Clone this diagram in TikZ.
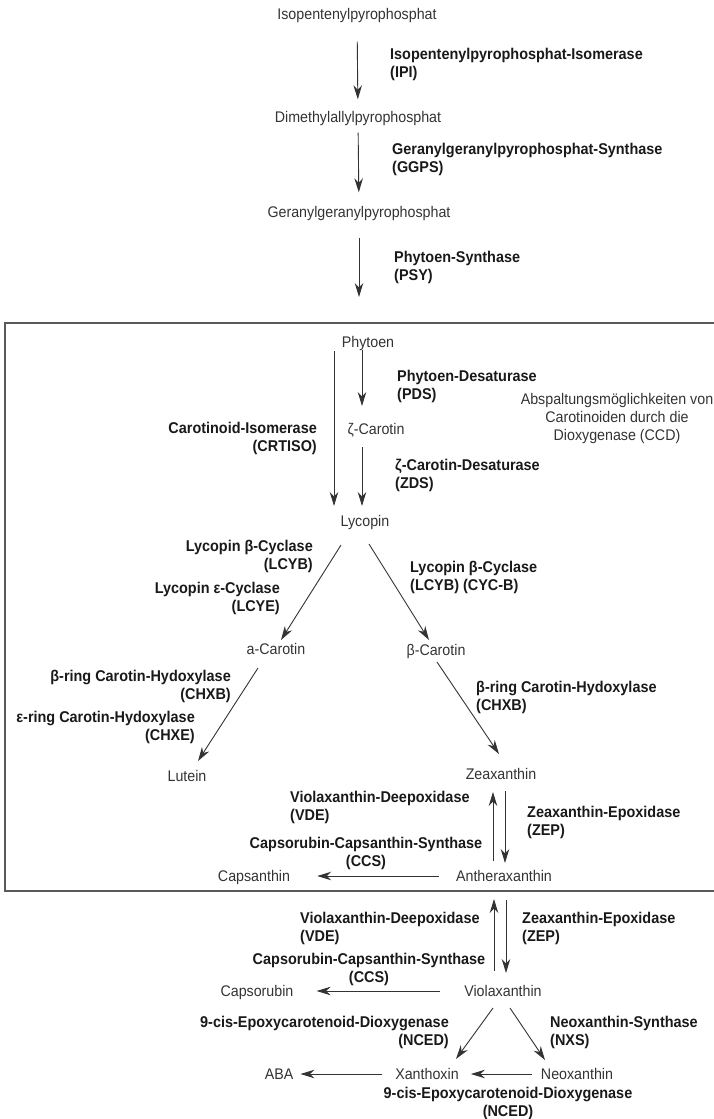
\documentclass[tikz,border=0pt]{standalone}
\usepackage{fontspec}
\setmainfont[FakeStretch=0.925]{Liberation Sans}
\usetikzlibrary{arrows.meta}

\begin{document}
\begin{tikzpicture}[x=1pt, y=-1pt,
        every node/.style={font=\fontsize{15.4}{18}\selectfont, text=black!80},
        sub/.style={inner sep=0pt, text height=11pt, text depth=0pt},
        enz/.style={inner sep=0pt, font=\fontsize{15.6}{18}\selectfont\bfseries, text=black!90},
        arr/.style={draw=black!80, line width=0.9pt, -{Stealth[length=14pt,width=8.5pt,inset=4.5pt]}}]
                \useasboundingbox (0,0) rectangle (714,1119);
                \clip (0,0) rectangle (714,1119);

                \node[sub] (ipp) at (357,14) {Isopentenylpyrophosphat};
                \node[sub] (dmapp) at (358,117) {Dimethylallylpyrophosphat};
                \node[sub] (ggpp) at (359,212) {Geranylgeranylpyrophosphat};
                \coordinate (psyend) at (359,297);

                \draw[arr, shorten <=22pt, shorten >=12pt] (ipp) -- (dmapp);
                \draw[arr, shorten <=10pt, shorten >=14pt] (dmapp) -- (ggpp);
                \draw[arr, shorten <=20pt] (ggpp) -- (psyend);

                \node[enz, anchor=west, align=left] (ipi) at (390,64) {Isopentenylpyrophosphat-Isomerase\\(IPI)};
                \node[enz, anchor=west, align=left] (ggps) at (392,159.5) {Geranylgeranylpyrophosphat-Synthase\\(GGPS)};
                \node[enz, anchor=west, align=left] (psy) at (394,267) {Phytoen-Synthase\\(PSY)};

                \draw[black!65, line width=1.3pt] (760,323) -- (5,323) -- (5,891) -- (760,891);

                \node[sub] (phy) at (368,342) {Phytoen};
                \node[sub] (zcar) at (376,429) {ζ-Carotin};
                \node[sub] (lyc) at (365,521) {Lycopin};
                \node[sub] (acar) at (276,649) {a-Carotin};
                \node[sub] (bcar) at (436,650) {β-Carotin};
                \node[sub] (lut) at (187,776) {Lutein};
                \node[sub] (zea) at (501,774) {Zeaxanthin};
                \node[sub] (anth) at (504,876) {Antheraxanthin};
                \node[sub] (caps) at (254,876) {Capsanthin};

                \draw[arr] ([shift={(-34,9)}]phy.center) -- ([shift={(-31,-15)}]lyc.center);
                \draw[arr] ([shift={(-6,8)}]phy.center) -- ([shift={(-14,-23)}]zcar.center);
                \draw[arr] ([shift={(-14,18)}]zcar.center) -- ([shift={(-3,-15)}]lyc.center);
                \draw[arr] ([shift={(-24,24)}]lyc.center) -- ([shift={(5,-9)}]acar.center);
                \draw[arr] ([shift={(4,23)}]lyc.center) -- ([shift={(-7,-10)}]bcar.center);
                \draw[arr] ([shift={(-18,19)}]acar.center) -- ([shift={(11,-15)}]lut.center);
                \draw[arr] ([shift={(1,12)}]bcar.center) -- ([shift={(-2,-20)}]zea.center);
                \draw[arr] ([shift={(4,17)}]zea.center) -- ([shift={(1,-13)}]anth.center);
                \draw[arr] ([shift={(-11,-15)}]anth.center) -- ([shift={(-8,18)}]zea.center);
                \draw[arr, shorten <=17pt, shorten >=27pt] (anth.west) -- (caps.east);

                \node[enz, anchor=west, align=left] (pds) at (397,386.5) {Phytoen-Desaturase\\(PDS)};
                \node[enz, anchor=east, align=right] (crtiso) at (317,438.5) {Carotinoid-Isomerase\\(CRTISO)};
                \node[align=center, inner sep=0pt] (ccd) at (617,419) {Abspaltungsmöglichkeiten von\\Carotinoiden durch die\\Dioxygenase (CCD)};
                \node[enz, anchor=west, align=left] (zds) at (395,475) {ζ-Carotin-Desaturase\\(ZDS)};
                \node[enz, anchor=east, align=right] (lcyb) at (313,556) {Lycopin β-Cyclase\\(LCYB)};
                \node[enz, anchor=east, align=right] (lcye) at (280,598.5) {Lycopin ε-Cyclase\\(LCYE)};
                \node[enz, anchor=west, align=left] (cycb) at (410,577.5) {Lycopin β-Cyclase\\(LCYB) (CYC-B)};
                \node[enz, anchor=east, align=right] (chxbl) at (231,686.5) {β-ring Carotin-Hydoxylase\\(CHXB)};
                \node[enz, anchor=east, align=right] (chxe) at (195,727.5) {ε-ring Carotin-Hydoxylase\\(CHXE)};
                \node[enz, anchor=west, align=left] (chxbr) at (476,697) {β-ring Carotin-Hydoxylase\\(CHXB)};
                \node[enz, anchor=west, align=left] (vdea) at (290,807) {Violaxanthin-Deepoxidase\\(VDE)};
                \node[enz, anchor=west, align=left] (zepa) at (527,822.5) {Zeaxanthin-Epoxidase\\(ZEP)};
                \node[enz, align=center] (ccsa) at (366,853.5) {Capsorubin-Capsanthin-Synthase\\(CCS)};

                \node[sub] (viol) at (503,991) {Violaxanthin};
                \node[sub] (capr) at (257,991) {Capsorubin};
                \node[sub] (xan) at (427,1074) {Xanthoxin};
                \node[sub] (neo) at (577,1074) {Neoxanthin};
                \node[sub] (aba) at (279,1074) {ABA};

                \draw[arr] ([shift={(2,24)}]anth.center) -- ([shift={(3,-18)}]viol.center);
                \draw[arr] ([shift={(-9,-20)}]viol.center) -- ([shift={(-10,23)}]anth.center);
                \draw[arr, shorten <=24pt, shorten >=23pt] (viol.west) -- (capr.east);
                \draw[arr] ([shift={(-10,17)}]viol.center) -- ([shift={(29,-15)}]xan.center);
                \draw[arr] ([shift={(7,17)}]viol.center) -- ([shift={(-32,-14)}]neo.center);
                \draw[arr, shorten <=9pt, shorten >=12pt] (neo.west) -- (xan.east);
                \draw[arr, shorten <=13pt, shorten >=7pt] (xan.west) -- (aba.east);

                \node[enz, anchor=west, align=left] (vdeb) at (300,928) {Violaxanthin-Deepoxidase\\(VDE)};
                \node[enz, anchor=west, align=left] (zepb) at (522,928) {Zeaxanthin-Epoxidase\\(ZEP)};
                \node[enz, align=center] (ccsb) at (369,969) {Capsorubin-Capsanthin-Synthase\\(CCS)};
                \node[enz, anchor=east, align=right] (nceda) at (449,1032.5) {9-cis-Epoxycarotenoid-Dioxygenase\\(NCED)};
                \node[enz, anchor=west, align=left] (nxs) at (550,1032) {Neoxanthin-Synthase\\(NXS)};
                \node[enz, align=center] (ncedb) at (508,1103.5) {9-cis-Epoxycarotenoid-Dioxygenase\\(NCED)};
\end{tikzpicture}
\end{document}
